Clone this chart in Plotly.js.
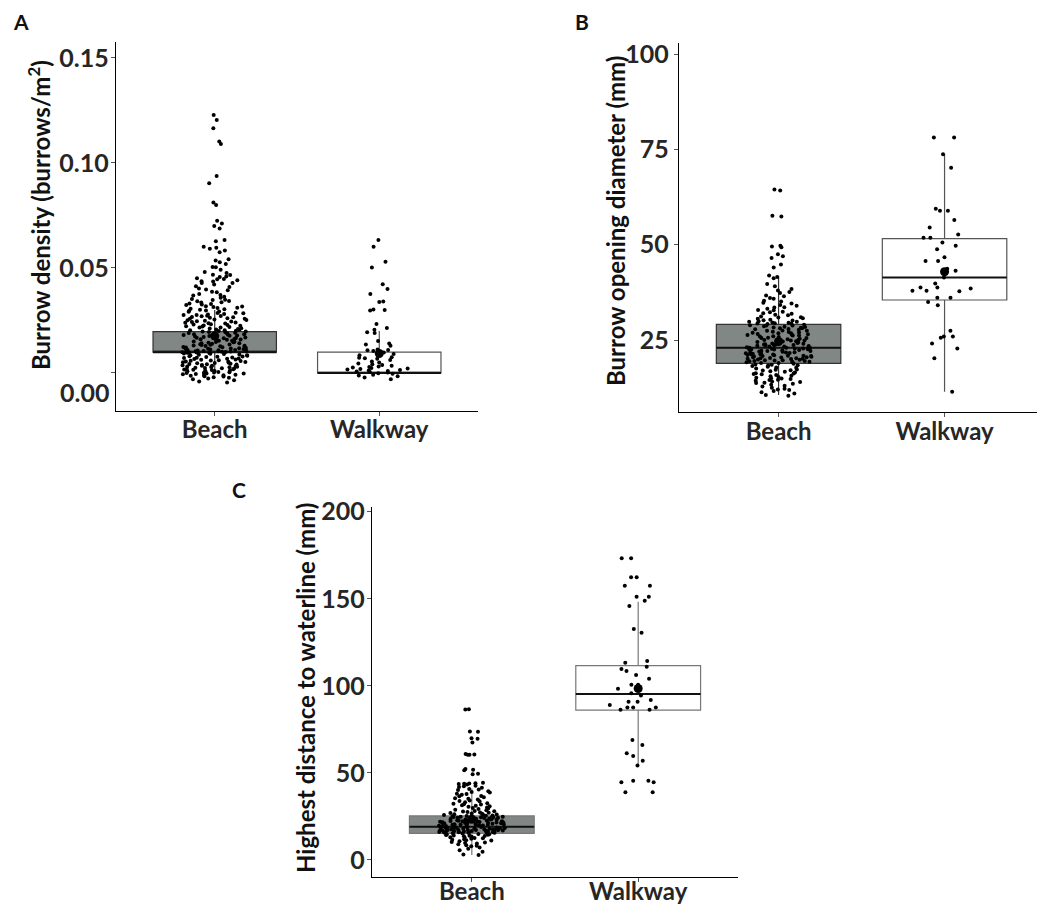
<!DOCTYPE html>
<html><head><meta charset="utf-8">
<script src="https://cdn.plot.ly/plotly-3.0.1.min.js"></script>
<style>html,body{margin:0;padding:0;background:#fff}#chart{width:1037px;height:906px}</style>
</head><body><div id="chart"></div>
<script>
const categories = ['Beach', 'Walkway'];

// Panel A: burrow density (burrows/m2)
const densityBeach = [0.1229,0.1205,0.1165,0.1102,0.1090,0.0938,0.0903,0.0812,0.0800,0.0725,0.0712,0.0700,0.0688,0.0633,0.0627,0.0601,0.0596,0.0592,0.0583,0.0575,0.0541,0.0536,
0.0527,0.0519,0.0505,0.0503,0.0492,0.0481,0.0476,0.0468,0.0466,0.0459,0.0457,0.0451,
0.0447,0.0446,0.0441,0.0437,0.0436,0.0429,0.0428,0.0421,0.0413,0.0409,0.0402,0.0398,0.0394,0.0387,0.0384,0.0376,0.0371,0.0369,0.0363,0.0358,0.0352,
0.0349,0.0347,0.0343,0.0341,0.0337,0.0336,0.0331,0.0329,0.0326,0.0324,0.0318,0.0317,0.0314,0.0311,0.0309,0.0306,0.0303,0.0301,0.0297,0.0296,0.0293,0.0291,0.0287,0.0286,0.0284,0.0281,
0.0279,0.0276,0.0276,0.0273,0.0271,0.0270,0.0266,0.0265,0.0263,0.0261,0.0258,0.0258,0.0255,0.0252,0.0251,0.0249,0.0246,0.0245,0.0243,0.0240,0.0239,0.0237,0.0236,0.0232,0.0231,0.0229,0.0226,0.0225,0.0222,0.0221,0.0219,0.0217,0.0216,0.0213,0.0212,0.0210,0.0207,0.0206,0.0204,0.0203,0.0201,0.0200,
0.0198,0.0197,0.0195,0.0194,0.0192,0.0190,0.0189,0.0188,0.0185,0.0184,0.0182,0.0181,0.0179,0.0177,0.0176,0.0174,0.0173,0.0171,0.0169,0.0168,0.0166,0.0165,0.0162,0.0161,0.0159,0.0158,0.0156,0.0154,0.0153,0.0150,0.0149,0.0147,0.0146,0.0144,0.0142,0.0141,0.0139,0.0137,0.0136,0.0134,0.0133,0.0131,0.0130,0.0128,0.0127,0.0125,0.0124,0.0122,0.0121,0.0119,0.0118,0.0117,0.0115,0.0114,0.0113,0.0112,0.0110,0.0109,0.0108,0.0107,0.0106,0.0105,0.0104,0.0103,0.0102,0.0101,0.0100,0.0100,0.0099,0.0099,0.0098,0.0097,0.0096,0.0095,
0.0093,0.0092,0.0090,0.0088,0.0087,0.0085,0.0084,0.0082,0.0080,0.0079,0.0077,0.0076,0.0074,0.0072,0.0071,0.0069,0.0068,0.0066,0.0064,0.0063,0.0061,0.0060,0.0058,0.0057,0.0055,0.0054,0.0052,0.0051,
0.0049,0.0048,0.0046,0.0044,0.0043,0.0042,0.0040,0.0038,0.0037,0.0035,0.0034,0.0033,0.0031,0.0030,0.0028,0.0027,0.0025,0.0024,0.0022,0.0021,0.0019,0.0018,0.0017,0.0015,0.0014,0.0012,0.0011,0.0009,0.0008,0.0007,0.0005,0.0004,0.0002,0.0001,0.0000,-0.0002,-0.0003,-0.0005,-0.0006,-0.0008,-0.0010,-0.0011,-0.0013,-0.0015,-0.0017,-0.0020,-0.0023,-0.0026,-0.0030,-0.0035,-0.0041,-0.0045];
const densityWalkway = [0.0633,0.0601,0.0530,0.0502,0.0422,0.0400,0.0376,0.0340,0.0338,0.0302,0.0300,0.0298,0.0233,0.0214,0.0206,0.0194,0.0190,0.0152,0.0140,0.0136,0.0130,0.0112,0.0110,0.0108,0.0105,0.0098,0.0090,0.0085,0.0075,0.0072,0.0070,0.0068,0.0062,0.0055,0.0050,0.0045,0.0041,0.0038,0.0035,0.0031,0.0029,0.0026,0.0024,0.0021,0.0019,0.0017,0.0014,0.0012,0.0010,0.0007,0.0005,0.0002,-0.0001,-0.0004,-0.0008,-0.0012,-0.0016,-0.0021,-0.0030];
const densityQ1 = [0.0099, 0.0000];
const densityMedian = [0.0099, 0.0000];
const densityQ3 = [0.0197, 0.0099];
const densityLow = [0.0000, 0.0000];
const densityHigh = [0.0300, 0.0200];
const densityMean = [0.0176, 0.0093];
const densityTicks = [0.05, 0.10, 0.15];
const densityTickText = ['0.05', '0.10', '0.15'];

// Panel B: burrow opening diameter (mm)
const diameterBeach = [64.5,64.2,57.6,57.4,49.7,49.5,49.3,47.5,47.0,46.5,44.8,44.0,41.9,41.5,41.2,39.7,39.1,38.4,38.0,37.6,37.3,36.7,36.5,36.0,35.8,35.3,35.1,34.8,34.6,34.2,34.0,33.6,33.5,33.2,32.9,32.8,32.4,32.3,32.0,31.9,31.6,31.5,31.2,31.0,30.9,30.7,30.6,30.3,30.2,30.1,29.9,29.8,29.8,29.6,29.5,29.4,29.3,29.3,29.2,
29.0,28.9,28.8,28.8,28.6,28.5,28.4,28.2,28.1,28.1,27.9,27.8,27.7,27.5,27.4,27.4,27.2,27.1,26.9,26.8,26.8,26.6,26.5,26.3,26.2,26.2,26.0,25.9,25.8,25.6,25.5,25.5,25.3,25.2,25.1,24.9,24.9,24.8,24.6,24.5,24.4,24.3,24.2,24.1,24.0,23.9,23.8,23.8,23.7,23.6,23.5,23.4,23.3,23.3,23.2,23.1,23.0,23.0,28.3,27.0,26.4,25.0,24.7,23.6,
22.9,22.8,22.8,22.7,22.6,22.5,22.5,22.4,22.3,22.2,22.1,22.1,22.0,21.9,21.8,21.7,21.7,21.6,21.5,21.4,21.3,21.3,21.2,21.1,21.0,20.9,20.9,20.8,20.7,20.6,20.5,20.5,20.4,20.3,20.2,20.1,20.1,20.0,19.9,19.8,19.7,19.7,19.6,19.5,19.4,19.3,19.3,19.2,19.1,19.0,19.0,22.6,21.5,20.8,20.2,19.5,
18.8,18.6,18.5,18.3,18.2,18.0,17.8,17.7,17.5,17.3,17.2,17.0,16.8,16.7,16.5,16.3,16.2,16.0,15.8,15.6,15.5,15.3,15.1,15.0,14.8,14.6,14.5,14.3,14.1,14.0,13.7,13.5,13.3,13.0,12.8,12.5,12.2,11.9,11.6,11.3,11.0,10.6,10.4,18.4,17.1,16.1,14.9,13.8,12.0];
const diameterWalkway = [78.1,78.1,73.7,70.2,59.4,58.9,58.9,56.5,54.5,52.7,51.8,51.8,50.6,49.7,48.8,46.7,45.7,45.7,43.7,43.2,41.4,39.8,38.8,38.8,38.5,37.9,37.9,37.8,36.1,36.1,35.0,34.1,27.4,25.9,25.9,25.6,24.1,22.8,20.2,11.4];
const diameterQ1 = [18.9, 35.5];
const diameterMedian = [23.0, 41.4];
const diameterQ3 = [29.1, 51.6];
const diameterLow = [10.6, 11.4];
const diameterHigh = [41.8, 73.5];
const diameterMean = [24.6, 42.9];
const diameterTicks = [25, 50, 75, 100];

// Panel C: highest distance to waterline (mm)
const distanceBeach = [86.5,86.4,73.8,73.6,69.9,69.6,67.5,60.8,60.6,60.5,60.4,52.3,51.8,51.6,49.5,49.2,44.3,44.1,43.9,43.8,43.6,43.4,42.6,42.3,41.9,41.5,40.8,40.5,40.2,39.5,39.0,38.7,38.0,37.9,37.4,36.8,36.6,36.0,35.5,35.2,34.8,34.2,33.9,33.7,33.1,32.6,32.3,32.0,31.8,31.5,31.1,30.9,30.6,30.2,29.8,29.6,29.3,28.9,28.6,28.2,28.0,27.9,27.6,27.3,27.1,27.0,26.7,26.5,26.3,26.2,26.0,25.8,25.6,25.4,
25.2,25.1,24.9,24.8,24.6,24.5,24.3,24.2,24.1,23.9,23.8,23.6,23.5,23.4,23.2,23.1,22.9,22.8,22.7,22.5,22.4,22.2,22.1,22.0,21.8,21.7,21.5,21.4,21.3,21.1,21.0,20.8,20.7,20.6,20.4,20.3,20.1,20.0,19.9,19.7,19.6,19.4,19.3,19.2,25.0,24.4,23.7,23.0,22.6,21.9,21.2,20.5,19.8,24.7,23.3,22.3,21.6,20.9,20.2,19.5,
19.0,18.9,18.7,18.7,18.5,18.4,18.2,18.2,18.0,17.9,17.7,17.6,17.6,17.4,17.3,17.1,17.0,16.9,16.8,16.6,16.5,16.5,16.3,16.2,16.0,15.9,15.8,15.6,15.5,15.4,18.9,18.6,18.1,17.8,17.3,16.9,16.4,16.1,15.7,18.3,17.5,16.7,15.9,17.2,16.2,
15.2,15.0,14.8,14.5,14.3,14.1,13.8,13.6,13.3,13.1,12.8,12.5,12.2,11.9,11.6,11.2,10.8,10.4,10.0,9.5,9.0,8.5,7.9,7.2,6.5,5.6,4.8,3.1,2.9,14.6,13.9,12.7,11.4,9.8,8.2];
const distanceWalkway = [173.2,173.2,162.3,162.3,157.5,157.5,151.2,151.2,148.9,145.8,132.6,130.5,114.3,113.3,111.0,109.7,108.5,106.2,104.1,100.7,100.7,98.4,95.7,94.5,91.9,90.9,90.9,89.0,87.6,87.6,87.6,86.3,86.3,68.9,66.0,61.3,59.7,57.0,54.2,45.5,45.5,44.6,44.6,38.9,38.9];
const distanceQ1 = [15.3, 86.1];
const distanceMedian = [19.1, 95.3];
const distanceQ3 = [25.3, 111.6];
const distanceLow = [2.9, 54.5];
const distanceHigh = [41.1, 148.3];
const distanceMean = [23.4, 98.5];
const distanceTicks = [0, 50, 100, 150, 200];

const titles = ['Burrow density (burrows/m<sup>2</sup>)', 'Burrow opening diameter (mm)', 'Highest distance to waterline (mm)'];

const tickFont = {family: 'Lato', size: 25, color: '#262626', weight: 'bold'};
const xTickFont = {family: 'Lato', size: 24, color: '#262626', weight: 'bold'};
const titleFont = {family: 'Lato', size: 24, color: '#111', weight: 'bold'};
const letterFont = {family: 'Lato', size: 21, color: '#111', weight: 'bold'};
const beachFill = 'rgb(128,135,133)';

function panelTraces(xa, ya, beach, walk, q1, med, q3, lo, hi, mean, outline) {
  const t = [];
  const fills = [beachFill, '#ffffff'];
  for (let i = 0; i < 2; i++) {
    t.push({type: 'box', xaxis: xa, yaxis: ya, x: [categories[i]],
      q1: [q1[i]], median: [med[i]], q3: [q3[i]], lowerfence: [lo[i]], upperfence: [hi[i]],
      boxpoints: false, width: 0.75, whiskerwidth: 0, fillcolor: fills[i],
      line: {color: outline[i], width: 1.2}, showlegend: false, hoverinfo: 'skip'});
  }
  t.push({type: 'box', xaxis: xa, yaxis: ya, x: categories,
    q1: med, median: med, q3: med, lowerfence: med, upperfence: med,
    boxpoints: false, width: 0.75, whiskerwidth: 0, fillcolor: 'rgba(0,0,0,0)',
    line: {color: '#111', width: 2}, showlegend: false, hoverinfo: 'skip'});
  const groups = [beach, walk];
  for (let i = 0; i < 2; i++) {
    t.push({type: 'box', xaxis: xa, yaxis: ya, y: groups[i], x: groups[i].map(() => categories[i]),
      boxpoints: 'all', jitter: 0.53, pointpos: 0, width: 0.75,
      fillcolor: 'rgba(0,0,0,0)', line: {width: 0},
      marker: {color: '#000', size: 4}, showlegend: false, hoverinfo: 'y'});
  }
  t.push({type: 'scatter', mode: 'markers', xaxis: xa, yaxis: ya, x: categories, y: mean,
    marker: {color: '#000', size: 9}, showlegend: false, hoverinfo: 'y'});
  return t;
}

const data = [].concat(
  panelTraces('x', 'y', densityBeach, densityWalkway, densityQ1, densityMedian, densityQ3, densityLow, densityHigh, densityMean, ['#333', '#555']),
  panelTraces('x2', 'y2', diameterBeach, diameterWalkway, diameterQ1, diameterMedian, diameterQ3, diameterLow, diameterHigh, diameterMean, ['#333', '#555']),
  panelTraces('x3', 'y3', distanceBeach, distanceWalkway, distanceQ1, distanceMedian, distanceQ3, distanceLow, distanceHigh, distanceMean, ['#777', '#777'])
);

function xAxis(domain, range, anchor, standoff) {
  return {domain: domain, anchor: anchor, type: 'category', categoryorder: 'array', categoryarray: categories,
    range: range, showline: true, linecolor: '#000', linewidth: 1.3, ticks: 'outside', ticklen: 4,
    tickcolor: '#555', tickwidth: 1, showgrid: false, zeroline: false, tickfont: xTickFont,
    ticklabelstandoff: standoff, automargin: false, fixedrange: true};
}
function yAxis(domain, range, anchor, tickvals, ticktext, standoff, minorVals) {
  const ax = {domain: domain, anchor: anchor, range: range, tickmode: 'array', tickvals: tickvals, ticktext: ticktext,
    showline: true, linecolor: '#000', linewidth: 1.3, ticks: 'outside', ticklen: 4, tickcolor: '#555', tickwidth: 1,
    showgrid: false, zeroline: false, tickfont: tickFont, ticklabelstandoff: standoff, automargin: false, fixedrange: true};
  if (minorVals) ax.minor = {tickmode: 'array', tickvals: minorVals, ticks: 'outside', ticklen: 4, tickcolor: '#555', tickwidth: 1, showgrid: false};
  return ax;
}

const layout = {
  width: 1037, height: 906, margin: {l: 0, r: 0, t: 0, b: 0},
  paper_bgcolor: '#fff', plot_bgcolor: 'rgba(0,0,0,0)', boxmode: 'overlay', showlegend: false,
  xaxis: xAxis([0.11186, 0.46095], [-0.6, 1.6], 'y', -7),
  yaxis: yAxis([0.54636, 0.95364], [-0.0181, 0.1576], 'x', densityTicks, densityTickText, -3, [0]),
  xaxis2: xAxis([0.65477, 1.0], [-0.6, 1.557], 'y2', -6),
  yaxis2: yAxis([0.54525, 0.95254], [6.12, 102.9], 'x2', diameterTicks, diameterTicks.map(String), 0, null),
  xaxis3: xAxis([0.35873, 0.71167], [-0.6, 1.6], 'y3', -11),
  yaxis3: yAxis([0.03201, 0.44040], [-9.76, 202.7], 'x3', distanceTicks, distanceTicks.map(String), -3, null),
  annotations: [
    {text: '0.00', xref: 'paper', yref: 'paper', x: 111 / 1037, y: (906 - 392) / 906, xanchor: 'right', yanchor: 'middle', showarrow: false, font: tickFont},
    {text: titles[0], textangle: -90, xref: 'paper', yref: 'paper', x: 39 / 1037, y: (906 - 215) / 906, xanchor: 'center', yanchor: 'middle', showarrow: false, font: titleFont},
    {text: titles[1], textangle: -90, xref: 'paper', yref: 'paper', x: 615 / 1037, y: (906 - 221) / 906, xanchor: 'center', yanchor: 'middle', showarrow: false, font: titleFont},
    {text: titles[2], textangle: -90, xref: 'paper', yref: 'paper', x: 305 / 1037, y: (906 - 688) / 906, xanchor: 'center', yanchor: 'middle', showarrow: false, font: titleFont},
    {text: 'A', xref: 'paper', yref: 'paper', x: 21 / 1037, y: (906 - 21) / 906, xanchor: 'center', yanchor: 'middle', showarrow: false, font: letterFont},
    {text: 'B', xref: 'paper', yref: 'paper', x: 582 / 1037, y: (906 - 21) / 906, xanchor: 'center', yanchor: 'middle', showarrow: false, font: letterFont},
    {text: 'C', xref: 'paper', yref: 'paper', x: 239 / 1037, y: (906 - 489) / 906, xanchor: 'center', yanchor: 'middle', showarrow: false, font: letterFont}
  ]
};

Plotly.newPlot('chart', data, layout, {displayModeBar: false, staticPlot: true});
</script>
</body></html>
